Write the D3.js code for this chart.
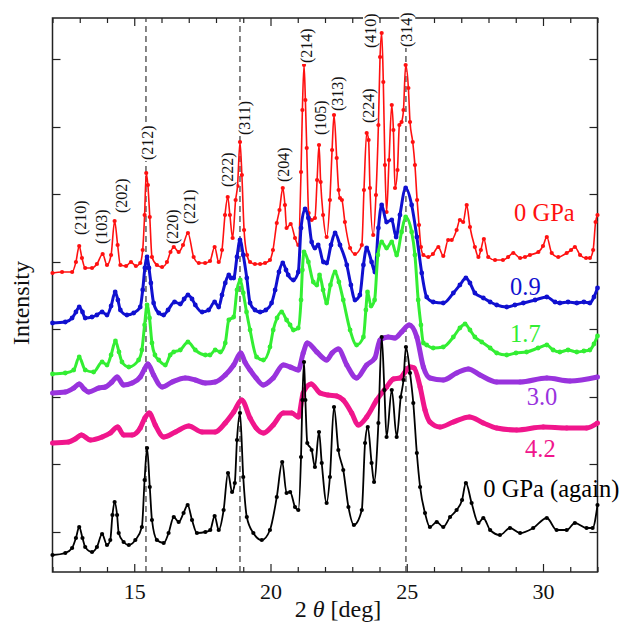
<!DOCTYPE html>
<html><head><meta charset="utf-8">
<script src="https://cdn.jsdelivr.net/npm/d3@7"></script>
<style>
body{margin:0;background:#fff}
svg{display:block}
</style>
</head><body>
<svg id="chart" width="622" height="624"></svg>
<script>
// ---------------- DATA ----------------
// 2θ in degrees, intensity in arbitrary units (curves already offset)
const red0 = [[12.00,299],[12.35,300],[12.72,300],[12.86,310],[12.98,326],[13.08,314],[13.20,304],[13.45,304],[13.63,308],[13.84,318],[14.00,307],[14.15,317],[14.28,351],[14.39,327],[14.49,307],[14.70,306],[14.88,310],[15.06,306],[15.22,309],[15.31,322],[15.38,357],[15.44,399],[15.50,387],[15.57,355],[15.65,315],[15.83,307],[16.02,305],[16.20,310],[16.33,320],[16.45,325],[16.63,320],[16.79,327],[16.97,339],[17.18,315],[17.37,309],[17.60,309],[17.78,311],[17.95,325],[18.10,310],[18.22,322],[18.33,357],[18.43,375],[18.51,357],[18.61,334],[18.72,372],[18.79,386],[18.88,430],[18.95,397],[19.03,342],[19.14,317],[19.25,310],[19.43,308],[19.62,308],[19.80,309],[19.98,312],[20.09,322],[20.23,349],[20.33,362],[20.45,384],[20.53,367],[20.59,344],[20.74,348],[20.90,334],[21.02,327],[21.12,400],[21.17,462],[21.23,507],[21.28,472],[21.33,424],[21.40,359],[21.51,352],[21.63,354],[21.71,392],[21.78,427],[21.84,390],[21.93,357],[22.06,335],[22.18,372],[22.26,422],[22.33,457],[22.43,414],[22.50,382],[22.55,374],[22.62,372],[22.73,350],[22.92,324],[23.10,318],[23.35,327],[23.43,382],[23.53,439],[23.60,432],[23.65,384],[23.77,337],[23.87,377],[23.96,447],[24.02,515],[24.08,539],[24.14,490],[24.20,407],[24.26,360],[24.35,412],[24.45,467],[24.51,442],[24.57,384],[24.66,402],[24.73,447],[24.81,450],[24.88,462],[24.96,507],[25.06,484],[25.12,450],[25.22,430],[25.30,407],[25.38,372],[25.45,347],[25.52,325],[25.61,317],[25.79,315],[25.96,318],[26.16,325],[26.34,316],[26.52,332],[26.65,332],[26.83,342],[26.95,352],[27.07,350],[27.20,367],[27.32,345],[27.50,325],[27.63,315],[27.72,322],[27.83,333],[27.99,315],[28.24,312],[28.53,312],[28.72,315],[28.91,319],[29.16,314],[29.34,315],[29.52,317],[29.83,320],[30.00,326],[30.14,335],[30.32,319],[30.56,315],[30.87,319],[31.03,322],[31.17,325],[31.36,317],[31.58,314],[31.72,314],[31.84,322],[31.93,350],[32.00,357]];

const blue09 = [[12.00,249],[12.47,250],[12.72,254],[12.86,260],[12.98,265],[13.10,260],[13.20,254],[13.45,255],[13.63,257],[13.82,260],[14.00,257],[14.15,266],[14.30,280],[14.40,272],[14.49,262],[14.73,257],[14.98,259],[15.22,265],[15.31,282],[15.39,304],[15.47,315],[15.54,304],[15.61,289],[15.71,269],[15.90,259],[16.08,257],[16.24,262],[16.48,270],[16.69,268],[16.83,273],[16.97,277],[17.12,273],[17.24,267],[17.49,260],[17.73,262],[17.95,270],[18.10,265],[18.22,277],[18.34,289],[18.47,297],[18.55,294],[18.65,294],[18.77,315],[18.88,332],[19.00,317],[19.13,294],[19.25,269],[19.43,262],[19.62,260],[19.83,262],[20.04,269],[20.17,282],[20.31,300],[20.45,309],[20.57,302],[20.65,297],[20.84,292],[21.02,300],[21.12,344],[21.27,363],[21.39,354],[21.51,330],[21.63,324],[21.75,327],[21.94,310],[22.06,309],[22.22,327],[22.37,339],[22.55,327],[22.80,307],[22.95,287],[23.10,272],[23.28,277],[23.41,307],[23.53,324],[23.71,310],[23.83,300],[23.96,344],[24.08,367],[24.26,350],[24.45,352],[24.61,335],[24.75,357],[24.96,384],[25.18,367],[25.37,335],[25.55,299],[25.73,275],[25.97,270],[26.34,269],[26.71,279],[26.95,287],[27.17,294],[27.32,289],[27.50,279],[27.81,274],[28.06,270],[28.30,267],[28.67,265],[28.97,267],[29.28,269],[29.71,272],[30.14,275],[30.44,270],[30.62,269],[30.92,270],[31.24,269],[31.50,270],[31.72,269],[31.87,275],[32.00,284]];

const green17 = [[12.00,198],[12.47,199],[12.78,202],[12.98,215],[13.20,202],[13.51,200],[13.82,210],[14.00,207],[14.15,217],[14.31,231],[14.44,220],[14.55,210],[14.80,205],[15.16,212],[15.28,222],[15.38,247],[15.47,267],[15.56,254],[15.65,229],[15.76,217],[15.90,212],[16.14,207],[16.32,217],[16.45,220],[16.69,222],[16.97,230],[17.24,222],[17.61,217],[17.78,217],[17.97,222],[18.16,220],[18.34,229],[18.47,252],[18.65,255],[18.77,282],[18.89,292],[19.00,279],[19.12,260],[19.25,242],[19.49,215],[19.74,212],[19.98,225],[20.10,242],[20.24,254],[20.41,260],[20.59,252],[20.72,247],[20.84,242],[21.02,244],[21.12,272],[21.17,302],[21.23,320],[21.39,310],[21.57,290],[21.70,287],[21.80,297],[21.93,282],[22.06,269],[22.20,287],[22.37,300],[22.51,290],[22.67,272],[22.92,242],[23.16,227],[23.41,235],[23.50,262],[23.56,280],[23.69,266],[23.82,272],[23.94,317],[24.08,330],[24.26,324],[24.45,330],[24.63,317],[24.81,340],[24.96,355],[25.18,340],[25.30,317],[25.42,272],[25.52,247],[25.61,229],[25.73,227],[25.97,224],[26.34,225],[26.71,235],[26.95,244],[27.14,248],[27.32,242],[27.50,235],[27.75,230],[28.06,224],[28.30,219],[28.67,217],[29.01,219],[29.40,220],[29.82,224],[30.14,227],[30.37,222],[30.62,220],[30.92,222],[31.24,220],[31.50,221],[31.72,222],[31.87,228],[32.00,236]];

const purple30 = [[12.00,179],[12.47,180],[12.78,184],[12.98,188],[13.16,183],[13.33,180],[13.70,184],[13.94,185],[14.18,190],[14.37,195],[14.61,187],[14.92,189],[15.22,195],[15.38,203],[15.50,208],[15.71,197],[16.02,185],[16.39,190],[16.87,194],[17.24,192],[17.61,189],[17.97,190],[18.34,197],[18.65,207],[18.91,219],[19.06,210],[19.25,202],[19.47,194],[19.74,187],[20.10,194],[20.47,207],[20.72,205],[21.02,202],[21.20,219],[21.35,229],[21.70,220],[22.06,212],[22.26,219],[22.49,223],[22.80,207],[23.16,194],[23.53,207],[23.83,214],[24.02,232],[24.32,235],[24.57,234],[24.81,240],[25.09,247],[25.37,235],[25.61,205],[25.85,194],[26.34,192],[26.83,199],[27.26,203],[27.69,197],[28.30,190],[29.16,190],[30.14,194],[30.99,191],[32.00,195]];

const pink42 = [[12.00,129],[12.59,130],[12.83,133],[13.06,137],[13.39,132],[13.82,135],[14.12,139],[14.39,145],[14.61,137],[14.92,137],[15.22,144],[15.39,154],[15.55,159],[15.77,147],[16.08,135],[16.51,140],[17.00,146],[17.49,140],[17.97,140],[18.34,149],[18.65,160],[18.94,172],[19.25,154],[19.47,144],[19.74,139],[20.10,147],[20.47,159],[20.78,159],[21.02,155],[21.20,179],[21.49,188],[21.82,179],[22.11,177],[22.43,176],[22.67,172],[22.98,159],[23.22,147],[23.53,155],[23.90,172],[24.26,185],[24.51,193],[24.75,194],[24.94,200],[25.12,205],[25.27,204],[25.49,185],[25.67,162],[25.85,150],[26.22,145],[26.71,150],[27.30,155],[27.81,149],[28.30,144],[29.03,142],[30.01,145],[30.87,144],[31.60,144],[32.00,149]];

const black0again = [[12.00,17],[12.47,19],[12.72,24],[12.86,34],[12.98,45],[13.10,34],[13.20,25],[13.45,20],[13.63,25],[13.82,38],[14.00,27],[14.12,32],[14.20,57],[14.28,70],[14.37,57],[14.43,39],[14.61,30],[14.80,27],[15.04,32],[15.28,45],[15.38,92],[15.47,124],[15.57,85],[15.65,52],[15.83,32],[16.08,29],[16.26,39],[16.45,55],[16.63,50],[16.81,59],[16.96,67],[17.12,52],[17.30,39],[17.61,40],[17.79,42],[17.95,56],[18.10,42],[18.28,62],[18.44,99],[18.59,80],[18.69,89],[18.77,132],[18.88,159],[19.00,95],[19.13,55],[19.37,39],[19.68,32],[19.98,42],[20.23,75],[20.43,110],[20.59,79],[20.72,80],[20.90,65],[21.02,62],[21.12,115],[21.17,172],[21.23,210],[21.28,172],[21.35,129],[21.51,122],[21.63,105],[21.78,140],[21.88,109],[22.06,69],[22.18,95],[22.33,165],[22.49,122],[22.67,102],[22.86,65],[23.06,47],[23.35,62],[23.47,129],[23.57,145],[23.71,109],[23.80,90],[23.96,149],[24.08,235],[24.18,182],[24.26,135],[24.45,182],[24.63,135],[24.78,175],[24.88,192],[24.97,225],[25.12,199],[25.24,169],[25.37,119],[25.49,85],[25.67,59],[25.85,45],[26.10,50],[26.34,45],[26.59,55],[26.83,62],[27.03,72],[27.17,89],[27.38,69],[27.63,49],[27.81,54],[28.06,42],[28.42,37],[28.79,44],[29.16,39],[29.64,44],[30.14,54],[30.50,42],[30.87,42],[31.17,49],[31.60,44],[31.82,44],[32.00,67]];

const seriesNames = ["0 GPa","0.9","1.7","3.0","4.2","0 GPa (again)"];
const seriesColors = ["#ff1010","#1010d0","#33ee33","#9933dd","#f0168c","#000000"];
const seriesLabelX = [28.94,28.79,28.79,29.40,29.34,27.81];
const seriesLabelY = [351,277,230.5,167,115.5,75.5];

const peakLabels = ["(210)","(103)","(202)","(212)","(220)","(221)","(222)","(311)","(204)","(214)","(105)","(313)","(224)","(410)","(314)"];
const peakLabelX = [13.01,13.78,14.55,15.49,16.40,17.02,18.44,19.03,20.46,21.32,21.85,22.45,23.60,23.67,25.00];
const peakLabelY = [337,328,359,412,328,348,385,437,390,509,437,461,449,524,525];

const dashX = [15.43,18.88,24.97];
const xMajorTicks = [15,20,25,30];
const xTickLabels = ["15","20","25","30"];
const xMinorTicks = [12,13,14,16,17,18,19,21,22,23,24,26,27,28,29,31,32];
const yTicks = [40,108,175,243,310,378,445,513];

// ---------------- CHART ----------------
const FONT = '"Liberation Serif", "Times New Roman", Times, serif';
const svg = d3.select("#chart").style("font-family", FONT);
const x = d3.scaleLinear().domain([12,32]).range([52.5,597.5]);
const y = d3.scaleLinear().domain([0,554]).range([572,18]);

function styleAxis(g){
  g.select(".domain").remove();
  g.attr("font-family", null);
  g.selectAll("line").attr("stroke","#222").attr("stroke-width",1.2);
}
const ax = svg.append("g");
ax.append("g").attr("transform","translate(0,572)")
  .call(d3.axisBottom(x).tickValues(xMinorTicks).tickSizeInner(-5).tickSizeOuter(0).tickFormat(""))
  .call(styleAxis);
const bAx = ax.append("g").attr("transform","translate(0,572)")
  .call(d3.axisBottom(x).tickValues(xMajorTicks).tickSizeInner(-8).tickSizeOuter(0).tickPadding(11)
        .tickFormat((d,i)=>xTickLabels[i]))
  .call(styleAxis);
bAx.selectAll("text").style("font-family", FONT).attr("font-size",22).attr("fill","#111");
ax.append("g").attr("transform","translate(0,18)")
  .call(d3.axisTop(x).tickValues(xMinorTicks).tickSizeInner(-5).tickSizeOuter(0).tickFormat(""))
  .call(styleAxis);
ax.append("g").attr("transform","translate(0,18)")
  .call(d3.axisTop(x).tickValues(xMajorTicks).tickSizeInner(-8).tickSizeOuter(0).tickFormat(""))
  .call(styleAxis);
ax.append("g").attr("transform","translate(52.5,0)")
  .call(d3.axisLeft(y).tickValues(yTicks).tickSizeInner(-8).tickSizeOuter(0).tickFormat(""))
  .call(styleAxis);
ax.append("g").attr("transform","translate(597.5,0)")
  .call(d3.axisRight(y).tickValues(yTicks).tickSizeInner(-8).tickSizeOuter(0).tickFormat(""))
  .call(styleAxis);

svg.append("rect").attr("x",x(12)).attr("y",y(554)).attr("width",x(32)-x(12)).attr("height",y(0)-y(554))
  .attr("fill","none").attr("stroke","#222").attr("stroke-width",1.5);

// dashed reference lines
svg.append("g").selectAll("line").data(dashX).join("line")
  .attr("x1",d=>x(d)).attr("x2",d=>x(d)).attr("y1",y(0)).attr("y2",y(554))
  .attr("stroke","#444").attr("stroke-width",1.3).attr("stroke-dasharray","6,4");

// curves
const seriesData = [red0, blue09, green17, purple30, pink42, black0again];
const lineW = [1.6, 3, 3, 5, 5, 1.8];
const dotR = [2.1, 2.4, 2.4, 2.5, 2.5, 2.1];
seriesData.forEach((data,i)=>{
  const line = d3.line().x(d=>x(d[0])).y(d=>y(d[1])).curve(d3.curveMonotoneX);
  const g = svg.append("g");
  g.append("path").datum(data).attr("d",line).attr("fill","none")
    .attr("stroke",seriesColors[i]).attr("stroke-width",lineW[i]).attr("stroke-linejoin","round");
  g.selectAll("circle").data(data).join("circle")
    .attr("cx",d=>x(d[0])).attr("cy",d=>y(d[1])).attr("r",dotR[i]).attr("fill",seriesColors[i]);
});

// series labels
svg.append("g").selectAll("text").data(seriesNames).join("text")
  .style("font-family", FONT)
  .attr("x",(d,i)=>x(seriesLabelX[i])).attr("y",(d,i)=>y(seriesLabelY[i]))
  .attr("font-size",24.5).attr("fill",(d,i)=>seriesColors[i]).text(d=>d);

// peak labels (rotated, white background)
const pl = svg.append("g").selectAll("g").data(peakLabels).join("g")
  .attr("transform",(d,i)=>`translate(${x(peakLabelX[i])},${y(peakLabelY[i])}) rotate(-90)`);
pl.each(function(d){
  const g = d3.select(this);
  const t = g.append("text").style("font-family", FONT).attr("x",0).attr("y",0)
    .attr("dominant-baseline","central")
    .attr("font-size",16).attr("fill","#111").text(d);
  const b = t.node().getBBox();
  g.insert("rect","text").attr("x",b.x-1).attr("y",b.y+1).attr("width",b.width+2).attr("height",b.height-2)
    .attr("fill","#fff");
});

// axis titles
const xt = svg.append("text").style("font-family", FONT).attr("x",338).attr("y",617).attr("text-anchor","middle")
  .attr("font-size",24).attr("fill","#111");
xt.append("tspan").text("2 ");
xt.append("tspan").attr("font-style","italic").text("θ");
xt.append("tspan").text(" [deg]");
svg.append("text").style("font-family", FONT).attr("transform","translate(29,303) rotate(-90)").attr("text-anchor","middle")
  .attr("font-size",24).attr("fill","#111").text("Intensity");
</script>
</body></html>
